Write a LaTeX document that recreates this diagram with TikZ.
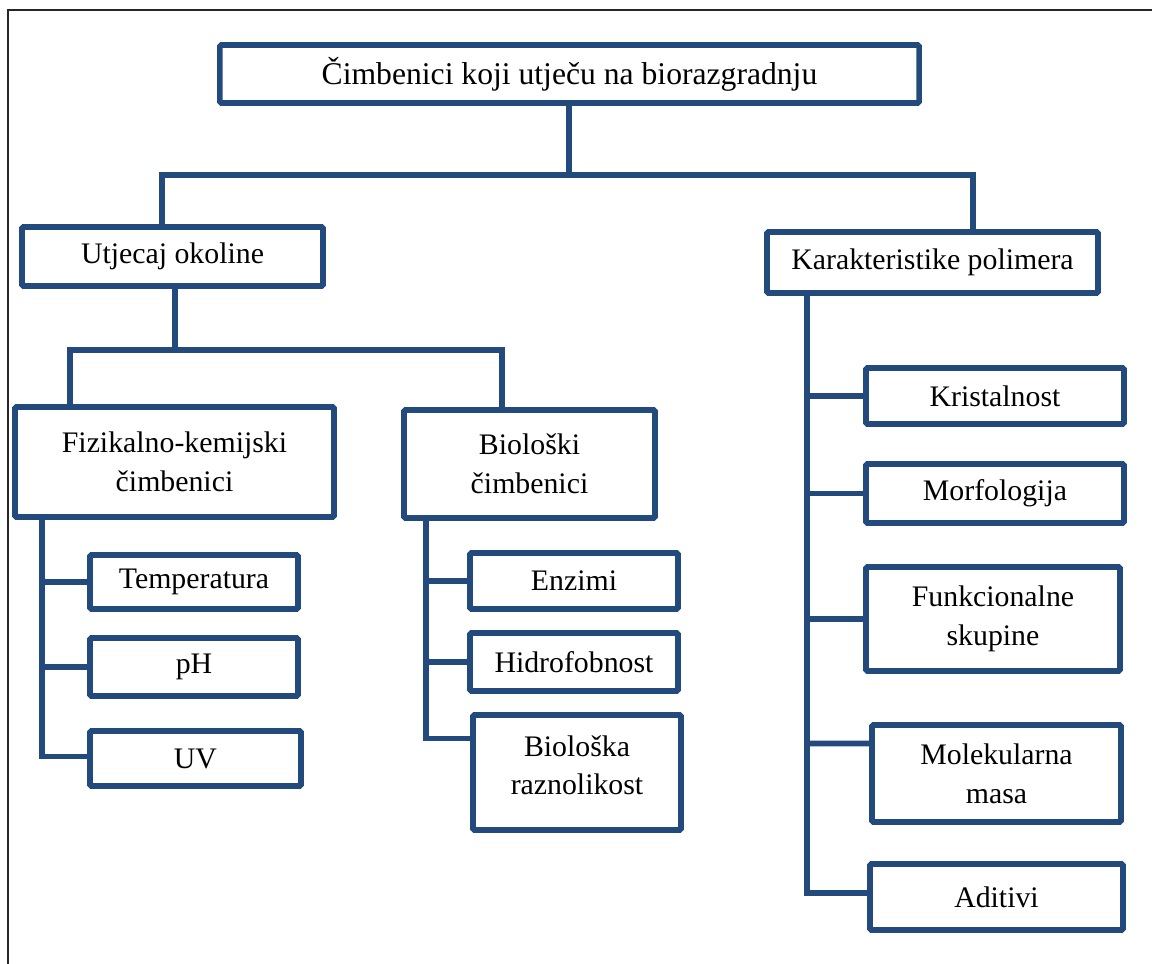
\documentclass[tikz,border=0pt]{standalone}
\usepackage{fontspec}
\setmainfont{Liberation Serif}
\usepackage{xcolor}
\usetikzlibrary{positioning, calc}

\definecolor{okvir}{RGB}{35,74,125}

\tikzset{
  kutija/.style={draw=okvir, line width=4pt, rounded corners=1pt, fill=white,
    inner sep=0pt, align=center, font=\fontsize{21.2}{27.5}\selectfont},
  veza/.style={draw=okvir, line width=4pt}
}

\begin{document}
\begin{tikzpicture}[x=0.025cm, y=-0.025cm]
				  \useasboundingbox (0,0) rectangle (1152,963);
				  \draw[line width=1.6pt, color=black!85] (8,975) -- (8,10) -- (1165,10);

				  \node[kutija, minimum width=17.475cm, minimum height=1.45cm, font=\fontsize{22.5}{27.5}\selectfont] (top) at (569.5,74) {Čimbenici koji utječu na biorazgradnju};
				  \node[kutija, minimum width=7.525cm, minimum height=1.475cm] (okol) at (172.5,256.5) {Utjecaj okoline};
				  \node[kutija, minimum width=8.275cm, minimum height=1.525cm] (karak) at (932.5,262.5) {Karakteristike polimera};
				  \node[kutija, minimum width=7.975cm, minimum height=2.75cm] (fiz) at (174.5,462) {Fizikalno-kemijski\\čimbenici};
				  \node[kutija, minimum width=6.275cm, minimum height=2.7cm] (bio) at (529.5,464) {Biološki\\čimbenici};

				  \node[kutija, minimum width=5.2cm, minimum height=1.35cm] (temp) at (194,582) {Temperatura};
				  \node[kutija, minimum width=5.2cm, minimum height=1.45cm] (ph) at (194,667) {pH};
				  \node[kutija, minimum width=5.275cm, minimum height=1.375cm] (uv) at (195.5,758.5) {UV};

				  \node[kutija, minimum width=5.2cm, minimum height=1.4cm] (enz) at (574,581) {Enzimi};
				  \node[kutija, minimum width=5.2cm, minimum height=1.45cm] (hidro) at (574,662) {Hidrofobnost};
				  \node[kutija, minimum width=5.2cm, minimum height=2.875cm] (biora) at (577,772.5) {Biološka\\raznolikost\\[-0.6cm]};

				  \node[kutija, minimum width=6.45cm, minimum height=1.4cm] (krist) at (995,396) {Kristalnost};
				  \node[kutija, minimum width=6.45cm, minimum height=1.475cm] (morf) at (995,493.5) {Morfologija};
				  \node[kutija, minimum width=6.35cm, minimum height=2.6cm] (funk) at (993,619) {Funkcionalne\\skupine};
				  \node[kutija, minimum width=6.225cm, minimum height=2.425cm] (molek) at (996.5,773.5) {Molekularna\\masa};
				  \node[kutija, minimum width=6.325cm, minimum height=1.65cm] (adit) at (996.5,897) {Aditivi};

				  \coordinate (s1) at (569,175);
				  \coordinate (d1) at (162,175);
				  \coordinate (d2) at (973,175);
				  \coordinate (s2) at (175,350);
				  \coordinate (d3) at (70,350);
				  \coordinate (d4) at (502,350);
				  \coordinate (tf) at (42,0);
				  \coordinate (tb) at (426,0);
				  \coordinate (tk) at (807,0);

				  \draw[veza] (top.south -| s1) -- (s1);
				  \draw[veza] (okol.north -| d1) -- (d1) -- (d2) -- (karak.north -| d2);
				  \draw[veza] (okol.south -| s2) -- (s2);
				  \draw[veza] (fiz.north -| d3) -- (d3) -- (d4) -- (bio.north -| d4);

				  \draw[veza] (fiz.south -| tf) |- ([yshift=0.05cm]uv.west);
				  \draw[veza] (tf |- temp.west) -- (temp.west);
				  \draw[veza] (tf |- ph.west) -- (ph.west);

				  \draw[veza] (bio.south -| tb) |- ([yshift=0.85cm]biora.west);
				  \draw[veza] (tb |- enz.west) -- (enz.west);
				  \draw[veza] (tb |- hidro.west) -- (hidro.west);

				  \draw[veza] (karak.south -| tk) |- ([yshift=0.1cm]adit.west);
				  \draw[veza] (tk |- krist.west) -- (krist.west);
				  \draw[veza] (tk |- morf.west) -- (morf.west);
				  \draw[veza] (tk |- funk.west) -- (funk.west);
				  \draw[veza] (tk |- molek.west) ++(0,-30) -- ([yshift=0.75cm]molek.west);
				\end{tikzpicture}
\end{document}
